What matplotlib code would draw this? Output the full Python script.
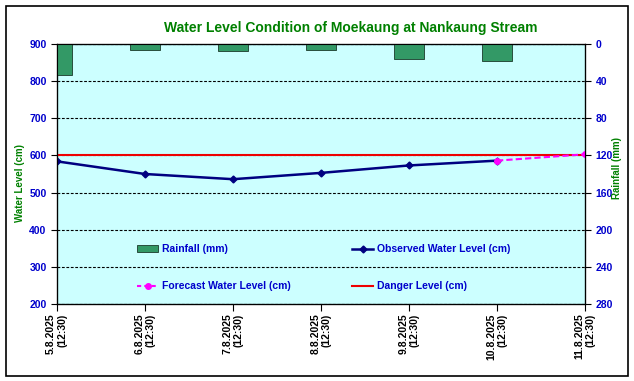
import matplotlib.pyplot as plt
import numpy as np
from matplotlib.patches import Patch, Rectangle
from matplotlib.lines import Line2D

plt.rcParams['font.family'] = ['Liberation Sans', 'DejaVu Sans']

# ---------------------------------------------------
# Datos
# ---------------------------------------------------
dates = ["5.8.2025\n(12:30)", "6.8.2025\n(12:30)", "7.8.2025\n(12:30)",
         "8.8.2025\n(12:30)", "9.8.2025\n(12:30)", "10.8.2025\n(12:30)",
         "11.8.2025\n(12:30)"]
rainfall = [33, 6, 7, 6, 16, 18]               # mm, 5.8 .. 10.8
observed = [584, 550, 536, 553, 573, 586]      # cm, 5.8 .. 10.8
forecast_idx = [5, 6]
forecast = [586, 603]                          # cm, 10.8 .. 11.8
danger = 600                                   # cm

blue = "#0000CC"
green = "#008000"

# ---------------------------------------------------
# Figura
# ---------------------------------------------------
fig = plt.figure(figsize=(6.34, 3.81), dpi=100)
fig.patch.set_facecolor("white")
fig.patches.append(Rectangle((6 / 634, 1 - 376 / 381), 622 / 634, 370 / 381,
                             transform=fig.transFigure, fill=False,
                             edgecolor="black", linewidth=1.2))

ax = fig.add_axes([57 / 634, 1 - 304 / 381, 528 / 634, 260 / 381])
ax.set_facecolor("#CCFFFF")
x = np.arange(len(dates))

ax.axhline(danger, color="#EE0000", linewidth=1.5, zorder=3)
ax.plot(x[:len(observed)], observed, color="#000080", linewidth=1.8,
        marker="D", markersize=3.5, zorder=4)
ax.plot(forecast_idx, forecast, color="#FF00FF", linewidth=1.5,
        linestyle=(0, (3, 1.5)), marker="o", markersize=4, zorder=5)

ax.set_xlim(0, 6)
ax.set_ylim(200, 900)
ax.set_yticks(range(200, 901, 100))
ax.set_xticks(x)
ax.set_xticklabels(dates, rotation=90, multialignment="right",
                   color=blue, fontsize=7.5, fontweight="bold")
ax.grid(axis="y", color="black", linestyle=(0, (2.5, 1.5)), linewidth=0.8)
ax.set_axisbelow(True)
ax.tick_params(axis="y", colors="black", labelcolor=blue, labelsize=7.5,
               length=4, width=0.8)
ax.tick_params(axis="x", colors="black", length=5, width=0.8, pad=2)
for lbl in ax.get_yticklabels():
    lbl.set_fontweight("bold")
for sp in ax.spines.values():
    sp.set_linewidth(0.9)

# Lluvia en el eje derecho (invertido)
ax2 = ax.twinx()
ax2.bar(x[:len(rainfall)], rainfall, width=0.33, color="#339966",
        edgecolor="#1a3a2a", linewidth=0.6, zorder=2)
ax2.set_ylim(280, 0)
ax2.set_yticks(range(0, 281, 40))
ax2.tick_params(axis="y", colors="black", labelcolor=blue, labelsize=7.5,
                length=4, width=0.8)
for lbl in ax2.get_yticklabels():
    lbl.set_fontweight("bold")
ax2.set_xlim(0, 6)

fig.text(20 / 634, 1 - 183 / 381, "Water Level (cm)", rotation=90,
         ha="center", va="center", color=green, fontsize=7, fontweight="bold")
fig.text(617 / 634, 1 - 168 / 381, "Rainfall (mm)", rotation=90,
         ha="center", va="center", color=green, fontsize=7, fontweight="bold")
fig.text(351 / 634, 1 - 28 / 381,
         "Water Level Condition of Moekaung at Nankaung Stream",
         ha="center", va="center", color=green, fontsize=10, fontweight="bold")

# Leyenda
h_rain = Patch(facecolor="#339966", edgecolor="#1a3a2a", linewidth=0.6)
h_fc = Line2D([], [], color="#FF00FF", linestyle=(0, (2, 1.5)), linewidth=1.5,
              marker="o", markersize=4)
h_obs = Line2D([], [], color="#000080", linewidth=1.8, marker="D", markersize=3.5)
h_dng = Line2D([], [], color="#EE0000", linewidth=1.5)

leg_kw = dict(frameon=False, fontsize=7.5, labelspacing=2.6, handlelength=2.0,
              handletextpad=0.4, borderaxespad=0, loc="upper left",
              bbox_transform=fig.transFigure)
leg1 = ax2.legend([h_rain, h_fc], ["Rainfall (mm)", "Forecast Water Level (cm)"],
                  bbox_to_anchor=(133 / 634, 1 - 240 / 381), **leg_kw)
for t in leg1.get_texts():
    t.set_color(blue)
    t.set_fontweight("bold")
ax2.add_artist(leg1)
leg2 = ax2.legend([h_obs, h_dng], ["Observed Water Level (cm)", "Danger Level (cm)"],
                  bbox_to_anchor=(348 / 634, 1 - 240 / 381), **leg_kw)
for t in leg2.get_texts():
    t.set_color(blue)
    t.set_fontweight("bold")

fig.savefig("out.png", dpi=100)
